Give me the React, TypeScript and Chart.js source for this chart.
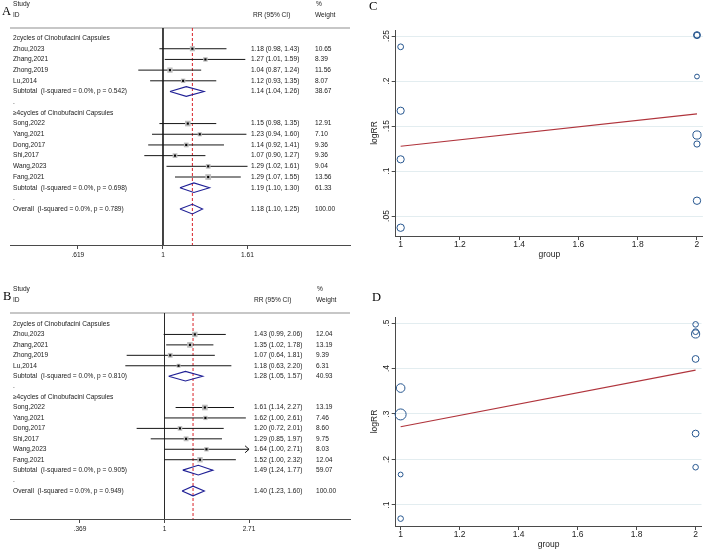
import React, { useEffect, useRef } from "react";
import { Chart, registerables } from "chart.js";

Chart.register(...registerables);

const SANS = "'Liberation Sans', Arial, Helvetica, sans-serif";
const SERIF = "'Liberation Serif', 'Times New Roman', Times, serif";
const INK = "#1a1a1a";
const AXIS = "#4a4a4a";

// Subgroups and studies, in the same order for both forest plots
const subgroupTitles = ["2cycles of Cinobufacini Capsules", "≥4cycles of Cinobufacini Capsules"];
const studiesTwoCycles = ["Zhou,2023", "Zhang,2021", "Zhong,2019", "Lu,2014"];
const studiesFourCycles = ["Song,2022", "Yang,2021", "Dong,2017", "Shi,2017", "Wang,2023", "Fang,2021"];

// Forest plot A
const aRR2 = [1.18, 1.27, 1.04, 1.12];
const aLow2 = [0.98, 1.01, 0.87, 0.93];
const aHigh2 = [1.43, 1.59, 1.24, 1.35];
const aWeight2 = [10.65, 8.39, 11.56, 8.07];
const aRR4 = [1.15, 1.23, 1.14, 1.07, 1.29, 1.29];
const aLow4 = [0.98, 0.94, 0.92, 0.9, 1.02, 1.07];
const aHigh4 = [1.35, 1.6, 1.41, 1.27, 1.61, 1.55];
const aWeight4 = [12.91, 7.1, 9.36, 9.36, 9.04, 13.56];
// pooled rows: subtotal 2 cycles, subtotal ≥4 cycles, overall
const aPoolRR = [1.14, 1.19, 1.18];
const aPoolLow = [1.04, 1.1, 1.1];
const aPoolHigh = [1.26, 1.3, 1.25];
const aPoolWeight = [38.67, 61.33, 100.0];
const aPoolI2 = [0.0, 0.0, 0.0];
const aPoolP = [0.542, 0.698, 0.789];
const aTicks = [0.619, 1, 1.61];
const aTickLabels = [".619", "1", "1.61"];
const aArrowStudies: string[] = [];

// Forest plot B
const bRR2 = [1.43, 1.35, 1.07, 1.18];
const bLow2 = [0.99, 1.02, 0.64, 0.63];
const bHigh2 = [2.06, 1.78, 1.81, 2.2];
const bWeight2 = [12.04, 13.19, 9.39, 6.31];
const bRR4 = [1.61, 1.62, 1.2, 1.29, 1.64, 1.52];
const bLow4 = [1.14, 1.0, 0.72, 0.85, 1.0, 1.0];
const bHigh4 = [2.27, 2.61, 2.01, 1.97, 2.71, 2.32];
const bWeight4 = [13.19, 7.46, 8.6, 9.75, 8.03, 12.04];
const bPoolRR = [1.28, 1.49, 1.4];
const bPoolLow = [1.05, 1.24, 1.23];
const bPoolHigh = [1.57, 1.77, 1.6];
const bPoolWeight = [40.93, 59.07, 100.0];
const bPoolI2 = [0.0, 0.0, 0.0];
const bPoolP = [0.81, 0.905, 0.949];
const bTicks = [0.369, 1, 2.71];
const bTickLabels = [".369", "1", "2.71"];
const bArrowStudies = ["Wang,2023"];

// Meta-regression of logRR on group (1 = 2 cycles, 2 = ≥4 cycles)
const studyGroup = [1, 1, 1, 1, 2, 2, 2, 2, 2, 2];
const groupTicks = [1, 1.2, 1.4, 1.6, 1.8, 2];
const groupTickLabels = ["1", "1.2", "1.4", "1.6", "1.8", "2"];
const cLogRR = [0.167, 0.238, 0.037, 0.113, 0.14, 0.205, 0.13, 0.067, 0.251, 0.251];
const cRadius = [3.6, 2.9, 3.7, 3.6, 4.1, 2.4, 3.1, 3.7, 2.9, 3.5];
const cFit = [0.1275, 0.1635];
const cYTicks = [0.05, 0.1, 0.15, 0.2, 0.25];
const cYTickLabels = [".05", ".1", ".15", ".2", ".25"];
const dLogRR = [0.357, 0.299, 0.07, 0.167, 0.476, 0.481, 0.183, 0.257, 0.497, 0.421];
const dRadius = [4.3, 5.5, 2.8, 2.4, 4.1, 2.9, 2.8, 3.4, 2.8, 3.4];
const dFit = [0.272, 0.3966];
const dYTicks = [0.1, 0.2, 0.3, 0.4, 0.5];
const dYTickLabels = [".1", ".2", ".3", ".4", ".5"];

Chart.defaults.font.family = SANS;

type ForestSpec = {
  letter: string;
  rr2: number[]; lo2: number[]; hi2: number[]; w2: number[];
  rr4: number[]; lo4: number[]; hi4: number[]; w4: number[];
  poolRR: number[]; poolLo: number[]; poolHi: number[]; poolW: number[]; poolI2: number[]; poolP: number[];
  ticks: number[]; tickLabels: string[]; arrows: string[];
  xMin: number; xMax: number; yMin: number; yMax: number; diamondHalf: number;
  top: number; height: number; padTop: number; axisHeight: number;
  statsX: number; rrHeadX: number; weightX: number; letterX: number; letterY: number;
};

const forestA: ForestSpec = {
  letter: "A",
  rr2: aRR2, lo2: aLow2, hi2: aHigh2, w2: aWeight2,
  rr4: aRR4, lo4: aLow4, hi4: aHigh4, w4: aWeight4,
  poolRR: aPoolRR, poolLo: aPoolLow, poolHi: aPoolHigh, poolW: aPoolWeight, poolI2: aPoolI2, poolP: aPoolP,
  ticks: aTicks, tickLabels: aTickLabels, arrows: aArrowStudies,
  xMin: 0.4223, xMax: 2.868, yMin: -0.94, yMax: 19.36, diamondHalf: 0.45,
  top: 0, height: 270, padTop: 28, axisHeight: 25,
  statsX: 251, rrHeadX: 253, weightX: 315, letterX: 2, letterY: 12,
};

const forestB: ForestSpec = {
  letter: "B",
  rr2: bRR2, lo2: bLow2, hi2: bHigh2, w2: bWeight2,
  rr4: bRR4, lo4: bLow4, hi4: bHigh4, w4: bWeight4,
  poolRR: bPoolRR, poolLo: bPoolLow, poolHi: bPoolHigh, poolW: bPoolWeight, poolI2: bPoolI2, poolP: bPoolP,
  ticks: bTicks, tickLabels: bTickLabels, arrows: bArrowStudies,
  xMin: 0.1617, xMax: 8.913, yMin: -1.054, yMax: 18.68, diamondHalf: 0.46,
  top: 280, height: 278, padTop: 33, axisHeight: 39,
  statsX: 254, rrHeadX: 254, weightX: 316, letterX: 3, letterY: 17,
};

type Row = {
  row: number; label: string; kind?: "study" | "pool";
  rr?: number; lo?: number; hi?: number; w?: number; arrow?: boolean;
};

function buildForestRows(s: ForestSpec): Row[] {
  const rows: Row[] = [];
  let r = 0;
  const groups = [
    { names: studiesTwoCycles, rr: s.rr2, lo: s.lo2, hi: s.hi2, w: s.w2 },
    { names: studiesFourCycles, rr: s.rr4, lo: s.lo4, hi: s.hi4, w: s.w4 },
  ];
  const pooled = (k: number, title: string): Row => ({
    row: r++,
    label: `${title}  (I-squared = ${s.poolI2[k].toFixed(1)}%, p = ${s.poolP[k].toFixed(3)})`,
    kind: "pool", rr: s.poolRR[k], lo: s.poolLo[k], hi: s.poolHi[k], w: s.poolW[k],
  });
  groups.forEach((g, gi) => {
    rows.push({ row: r++, label: subgroupTitles[gi] });
    g.names.forEach((name, i) =>
      rows.push({
        row: r++, label: name, kind: "study",
        rr: g.rr[i], lo: g.lo[i], hi: g.hi[i], w: g.w[i], arrow: s.arrows.includes(name),
      })
    );
    rows.push(pooled(gi, "Subtotal"));
    rows.push({ row: r++, label: "." });
  });
  rows.push(pooled(2, "Overall"));
  return rows;
}

const segment = (pts: { x: number; y: number }[], color: string, width = 1, extra: any = {}) => ({
  data: pts, showLine: true, borderColor: color, borderWidth: width,
  pointRadius: 0, fill: false, tension: 0, ...extra,
});

function ForestPlot({ s }: { s: ForestSpec }) {
  const ref = useRef<HTMLCanvasElement>(null);
  useEffect(() => {
    const rows = buildForestRows(s);
    const studies = rows.filter((r) => r.kind === "study");
    const pools = rows.filter((r) => r.kind === "pool");
    const overall = pools[pools.length - 1];
    const h = s.diamondHalf;

    const datasets: any[] = [
      {
        data: studies.map((r) => ({ x: r.rr, y: r.row })),
        pointStyle: "rect", pointRadius: 1.5,
        pointBackgroundColor: "#000", pointBorderWidth: 0,
      },
      {
        data: studies.map((r) => ({ x: r.rr, y: r.row })),
        pointStyle: "rect", pointRadius: studies.map((r) => Math.sqrt(r.w as number) * 1.1),
        pointBackgroundColor: "#bdbdbd", pointBorderWidth: 0,
      },
      ...studies.map((r) => segment([{ x: r.lo!, y: r.row }, { x: r.hi!, y: r.row }], "#161616")),
      ...pools.map((r) =>
        segment(
          [
            { x: r.lo!, y: r.row }, { x: r.rr!, y: r.row - h }, { x: r.hi!, y: r.row },
            { x: r.rr!, y: r.row + h }, { x: r.lo!, y: r.row },
          ],
          "#1f1f95", 1.1
        )
      ),
      segment([{ x: overall.rr!, y: s.yMin }, { x: overall.rr!, y: s.yMax }], "#d9232a", 1, { borderDash: [3, 2] }),
      segment([{ x: 1, y: s.yMin }, { x: 1, y: s.yMax }], "#2a2a2a"),
      segment([{ x: s.xMin, y: s.yMin }, { x: s.xMax, y: s.yMin }], "#8f8f8f", 1, { clip: false }),
    ];

    const textPlugin = {
      id: "forestText",
      afterDraw(chart: any) {
        const { ctx } = chart;
        const x = chart.scales.x;
        const y = chart.scales.y;
        const rule = y.getPixelForValue(s.yMin);
        ctx.save();
        ctx.fillStyle = INK;
        ctx.textBaseline = "middle";
        ctx.textAlign = "left";
        ctx.font = `6.6px ${SANS}`;
        ctx.fillText("Study", 13, rule - 24);
        ctx.fillText("ID", 13, rule - 13);
        ctx.fillText("RR (95% CI)", s.rrHeadX, rule - 13);
        ctx.fillText("%", s.weightX + 1, rule - 24);
        ctx.fillText("Weight", s.weightX, rule - 13);
        rows.forEach((r) => {
          const py = y.getPixelForValue(r.row);
          ctx.fillText(r.label, 13, py);
          if (r.kind) {
            ctx.fillText(`${r.rr!.toFixed(2)} (${r.lo!.toFixed(2)}, ${r.hi!.toFixed(2)})`, s.statsX, py);
            ctx.fillText(r.w!.toFixed(2), s.weightX, py);
          }
          if (r.arrow) {
            const px = x.getPixelForValue(r.hi);
            ctx.strokeStyle = "#161616";
            ctx.lineWidth = 1;
            ctx.beginPath();
            ctx.moveTo(px - 4, py - 3.5);
            ctx.lineTo(px, py);
            ctx.lineTo(px - 4, py + 3.5);
            ctx.stroke();
          }
        });
        ctx.font = `12.5px ${SERIF}`;
        ctx.fillStyle = "#000";
        ctx.fillText(s.letter, s.letterX, s.letterY);
        ctx.restore();
      },
    };

    const chart = new Chart(ref.current as HTMLCanvasElement, {
      type: "scatter",
      data: { datasets },
      options: {
        animation: false,
        responsive: false,
        events: [],
        layout: { padding: { top: s.padTop, left: 10, right: 6, bottom: 0 } },
        plugins: { legend: { display: false }, tooltip: { enabled: false } },
        scales: {
          x: {
            type: "logarithmic",
            min: s.xMin,
            max: s.xMax,
            bounds: "data",
            afterBuildTicks: (ax: any) => {
              ax.ticks = s.ticks.map((v) => ({ value: v }));
            },
            afterFit: (ax: any) => {
              ax.height = s.axisHeight;
            },
            ticks: {
              autoSkip: false, maxRotation: 0, minRotation: 0, padding: 2, color: INK,
              font: { family: SANS, size: 6.6 },
              callback: (v: any) => {
                const i = s.ticks.indexOf(Number(v));
                return i >= 0 ? s.tickLabels[i] : "";
              },
            },
            grid: { drawOnChartArea: false, drawTicks: true, tickLength: 4, color: AXIS, tickColor: AXIS },
            border: { display: true, color: AXIS, width: 1 },
          },
          y: { type: "linear", display: false, min: s.yMin, max: s.yMax, reverse: true },
        },
      } as any,
      plugins: [textPlugin],
    });
    return () => chart.destroy();
  }, [s]);
  return (
    <canvas
      ref={ref}
      width={356}
      height={s.height}
      style={{ position: "absolute", left: 0, top: s.top, width: 356, height: s.height }}
    />
  );
}

type RegSpec = {
  letter: string; logRR: number[]; radius: number[]; fit: number[];
  yTicks: number[]; yTickLabels: string[]; yMin: number; yMax: number;
  top: number; height: number; padTop: number; xAxisHeight: number;
  xTickPad: number; xTitlePad: number; letterX: number; letterY: number;
};

const regC: RegSpec = {
  letter: "C", logRR: cLogRR, radius: cRadius, fit: cFit,
  yTicks: cYTicks, yTickLabels: cYTickLabels, yMin: 0.0278, yMax: 0.2567,
  top: 0, height: 280, padTop: 30, xAxisHeight: 44, xTickPad: 0, xTitlePad: 19.9,
  letterX: 9, letterY: 7,
};

const regD: RegSpec = {
  letter: "D", logRR: dLogRR, radius: dRadius, fit: dFit,
  yTicks: dYTicks, yTickLabels: dYTickLabels, yMin: 0.0538, yMax: 0.5132,
  top: 280, height: 278, padTop: 37, xAxisHeight: 32, xTickPad: 0, xTitlePad: 7.9,
  letterX: 12, letterY: 18,
};

function RegressionPlot({ s }: { s: RegSpec }) {
  const ref = useRef<HTMLCanvasElement>(null);
  useEffect(() => {
    const labelPlugin = {
      id: "regLabels",
      afterDraw(chart: any) {
        const { ctx } = chart;
        const y = chart.scales.y;
        ctx.save();
        ctx.fillStyle = "#222";
        ctx.font = `8.5px ${SANS}`;
        ctx.textAlign = "center";
        ctx.textBaseline = "middle";
        s.yTicks.forEach((v, i) => {
          ctx.save();
          ctx.translate(26.7, y.getPixelForValue(v));
          ctx.rotate(-Math.PI / 2);
          ctx.fillText(s.yTickLabels[i], 0, 0);
          ctx.restore();
        });
        ctx.textAlign = "left";
        ctx.fillStyle = "#000";
        ctx.font = `12.5px ${SERIF}`;
        ctx.fillText(s.letter, s.letterX, s.letterY);
        ctx.restore();
      },
    };

    const chart = new Chart(ref.current as HTMLCanvasElement, {
      type: "bubble",
      data: {
        datasets: [
          {
            type: "line",
            data: [{ x: 1, y: s.fit[0] }, { x: 2, y: s.fit[1] }],
            borderColor: "#b0343c", borderWidth: 1.2, pointRadius: 0, fill: false, tension: 0,
          },
          {
            type: "bubble",
            data: studyGroup.map((g, i) => ({ x: g, y: s.logRR[i], r: s.radius[i] })),
            backgroundColor: "rgba(0,0,0,0)", borderColor: "#26568f", borderWidth: 1, clip: false,
          },
        ] as any,
      },
      options: {
        animation: false,
        responsive: false,
        events: [],
        layout: { padding: { top: s.padTop, left: 0, right: 1.3, bottom: 0 } },
        plugins: { legend: { display: false }, tooltip: { enabled: false } },
        scales: {
          x: {
            type: "linear", min: 0.9833, max: 2.02,
            afterBuildTicks: (ax: any) => {
              ax.ticks = groupTicks.map((v) => ({ value: v }));
            },
            afterFit: (ax: any) => {
              ax.height = s.xAxisHeight;
            },
            ticks: {
              autoSkip: false, maxRotation: 0, minRotation: 0, padding: s.xTickPad, color: "#222",
              font: { family: SANS, size: 8.5 },
              callback: (v: any) => {
                const i = groupTicks.indexOf(Number(v));
                return i >= 0 ? groupTickLabels[i] : "";
              },
            },
            grid: { drawOnChartArea: false, drawTicks: true, tickLength: 4, color: AXIS, tickColor: AXIS },
            border: { display: true, color: AXIS, width: 1 },
            title: {
              display: true, text: "group", color: "#222",
              font: { family: SANS, size: 8.5 }, padding: { top: 0, bottom: s.xTitlePad },
            },
          },
          y: {
            type: "linear", min: s.yMin, max: s.yMax,
            afterBuildTicks: (ax: any) => {
              ax.ticks = s.yTicks.map((v) => ({ value: v }));
            },
            afterFit: (ax: any) => {
              ax.width = 35.7;
            },
            ticks: { display: false },
            grid: { color: "#e3edf0", lineWidth: 1, drawTicks: true, tickLength: 4, tickColor: AXIS },
            border: { display: true, color: AXIS, width: 1 },
            title: {
              display: true, text: "logRR", color: "#222",
              font: { family: SANS, size: 8.5 }, padding: { top: 9.9, bottom: 0 },
            },
          },
        },
      } as any,
      plugins: [labelPlugin],
    });
    return () => chart.destroy();
  }, [s]);
  return (
    <canvas
      ref={ref}
      width={348}
      height={s.height}
      style={{ position: "absolute", left: 360, top: s.top, width: 348, height: s.height }}
    />
  );
}

export default function App() {
  return (
    <div
      style={{
        position: "absolute", left: 0, top: 0, width: 708, height: 558,
        background: "#ffffff", overflow: "hidden",
      }}
    >
      <ForestPlot s={forestA} />
      <ForestPlot s={forestB} />
      <RegressionPlot s={regC} />
      <RegressionPlot s={regD} />
    </div>
  );
}
